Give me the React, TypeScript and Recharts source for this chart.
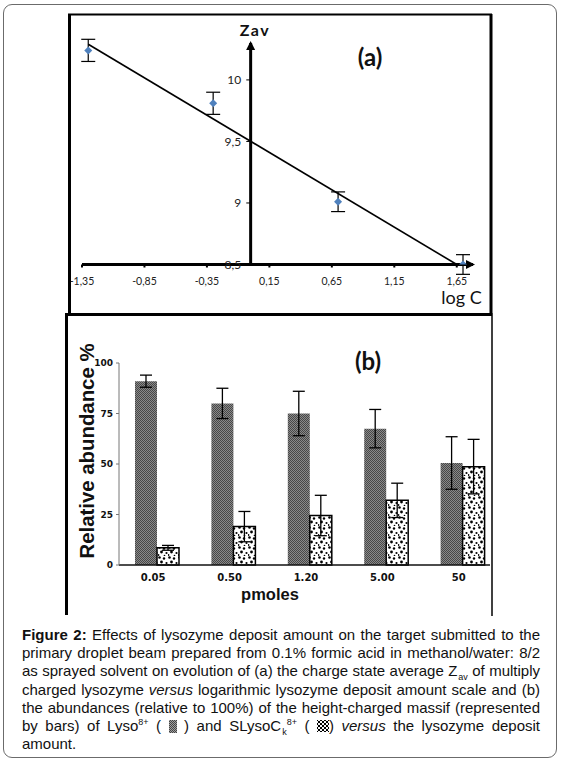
import React from 'react';
import {
  ComposedChart,
  Scatter,
  BarChart,
  Bar,
  XAxis,
  YAxis,
  ErrorBar,
  ReferenceLine,
  ReferenceDot,
} from 'recharts';

// (a) charge state average vs log C
const logC = [-1.3, -0.3, 0.7, 1.7];
const zav = [10.24, 9.81, 9.01, 8.5];
const zavErr = [0.09, 0.09, 0.08, 0.08];
const fitLogC = [-1.3, 1.65];
const fitZav = [10.29, 8.5];
const xTicksA = [-1.35, -0.85, -0.35, 0.15, 0.65, 1.15, 1.65];
const yTicksA = [8.5, 9, 9.5, 10];

// (b) relative abundances
const pmoles = ['0.05', '0.50', '1.20', '5.00', '50'];
const lyso = [91, 80, 75, 67.5, 50.5];
const lysoErr = [3, 7.5, 11, 9.5, 13];
const slyso = [8.5, 19, 24.5, 32, 48.7];
const slysoErr = [1.2, 7.5, 10, 8.5, 13.5];
const yTicksB = [0, 25, 50, 75, 100];
const bandTicks = [1, 2, 3, 4];

const pointsA = logC.map((x, i) => ({ x, y: zav[i], err: zavErr[i] }));
const fitA = fitLogC.map((x, i) => ({ x, y: fitZav[i] }));
const dataB = pmoles.map((p, i) => ({
  p,
  lyso: lyso[i],
  lysoErr: lysoErr[i],
  slyso: slyso[i],
  slysoErr: slysoErr[i],
}));

const comma = (v: number) => String(v).replace('.', ',');

const Diamond = (p: any) => (
  <polygon
    points={`${p.cx},${p.cy - 4} ${p.cx + 4},${p.cy} ${p.cx},${p.cy + 4} ${p.cx - 4},${p.cy}`}
    fill="#4F81BD"
  />
);
const NoDot = () => <g />;
const ArrowRight = (p: any) => (
  <polygon points={`${p.cx + 2},${p.cy} ${p.cx - 7},${p.cy - 4.5} ${p.cx - 7},${p.cy + 4.5}`} fill="#000" />
);
const ArrowUp = (p: any) => (
  <polygon points={`${p.cx},${p.cy - 2} ${p.cx - 4.5},${p.cy + 7} ${p.cx + 4.5},${p.cy + 7}`} fill="#000" />
);

function ChartA() {
  return (
    <ComposedChart width={424} height={302} margin={{ top: 29, right: 19, bottom: 21.5, left: 14 }}>
      <XAxis
        type="number"
        dataKey="x"
        domain={[-1.35, 1.78]}
        ticks={xTicksA}
        interval={0}
        allowDataOverflow
        tickFormatter={comma}
        height={30}
        axisLine={{ stroke: '#000', strokeWidth: 3 }}
        tickLine={{ stroke: '#000', strokeWidth: 2 }}
        tickSize={3}
        tickMargin={10}
        tick={{ fontFamily: 'Lato', fontSize: 10.5, fill: '#222' }}
      />
      <YAxis type="number" dataKey="y" domain={[8.5, 10.3]} allowDataOverflow hide />
      <ReferenceLine x={0} stroke="#000" strokeWidth={3} />
      {yTicksA.map((v) => (
        <ReferenceLine
          key={v}
          segment={[{ x: -0.035, y: v }, { x: 0, y: v }]}
          stroke="#000"
          strokeWidth={1}
          label={{ value: comma(v), position: 'left', offset: 5, fill: '#222', fontSize: 12, fontFamily: 'Lato' }}
        />
      ))}
      <ReferenceDot x={1.78} y={8.5} ifOverflow="visible" shape={ArrowRight} />
      <ReferenceDot x={0} y={10.3} ifOverflow="visible" shape={ArrowUp} />
      <Scatter
        data={fitA}
        line={{ stroke: '#000', strokeWidth: 1.6 }}
        shape={NoDot}
        isAnimationActive={false}
      />
      <Scatter data={pointsA} shape={Diamond} isAnimationActive={false}>
        <ErrorBar dataKey="err" direction="y" width={7} stroke="#000" strokeWidth={1.2} />
      </Scatter>
    </ComposedChart>
  );
}

function ChartB() {
  return (
    <BarChart
      width={440}
      height={299}
      data={dataB}
      margin={{ top: 47, right: 7, bottom: 20, left: 0 }}
      barGap={0}
      barSize={22}
    >
      <defs>
        <pattern id="dkPat" width="2" height="2" patternUnits="userSpaceOnUse">
          <rect width="2" height="2" fill="#8a8a8a" />
          <rect width="1" height="1" fill="#474747" />
          <rect x="1" y="1" width="1" height="1" fill="#474747" />
        </pattern>
        <pattern id="spPat" width="10" height="10" patternUnits="userSpaceOnUse">
          <rect width="10" height="10" fill="#fff" />
          <circle cx="1.5" cy="1.5" r="1.3" fill="#000" />
          <circle cx="6" cy="2.5" r="1.2" fill="#000" />
          <circle cx="3.5" cy="6" r="1.4" fill="#000" />
          <circle cx="8.5" cy="7" r="1.1" fill="#000" />
          <circle cx="0.5" cy="9" r="0.9" fill="#000" />
          <circle cx="6.5" cy="9.6" r="0.8" fill="#000" />
        </pattern>
      </defs>
      <XAxis
        xAxisId="z"
        dataKey="p"
        height={29}
        interval={0}
        axisLine={false}
        tickLine={false}
        tick={{ fontFamily: 'DejaVu Sans', fontWeight: 700, fontSize: 10, fill: '#111', dx: -4 }}
      />
      <XAxis
        xAxisId="a"
        type="number"
        domain={[0, 5]}
        ticks={bandTicks}
        allowDataOverflow
        height={1}
        axisLine={{ stroke: '#111', strokeWidth: 1.5 }}
        tickLine={{ stroke: '#111', strokeWidth: 1.5 }}
        tickSize={5}
        tick={false}
      />
      <YAxis
        domain={[0, 100]}
        ticks={yTicksB}
        width={51}
        axisLine={{ stroke: '#777' }}
        tickLine={{ stroke: '#777' }}
        tickSize={3}
        tickMargin={3}
        tick={{ fontFamily: 'DejaVu Sans', fontWeight: 700, fontSize: 9, fill: '#111' }}
      />
      <Bar xAxisId="z" dataKey="lyso" fill="url(#dkPat)" isAnimationActive={false}>
        <ErrorBar dataKey="lysoErr" direction="y" width={6} stroke="#000" strokeWidth={1.3} />
      </Bar>
      <Bar xAxisId="z" dataKey="slyso" fill="url(#spPat)" stroke="#000" strokeWidth={1.5} isAnimationActive={false}>
        <ErrorBar dataKey="slysoErr" direction="y" width={6} stroke="#000" strokeWidth={1.3} />
      </Bar>
    </BarChart>
  );
}

const sub = { fontSize: 9, verticalAlign: 'sub', lineHeight: 0, marginLeft: 1 } as const;
const sup = { fontSize: 9, verticalAlign: 'super', lineHeight: 0 } as const;
const justify = { textAlign: 'justify', textAlignLast: 'justify' } as const;

function Caption() {
  return (
    <div
      style={{
        position: 'absolute',
        left: 22,
        top: 626,
        width: 518,
        fontFamily: 'Arial, "Liberation Sans", sans-serif',
        fontSize: 15,
        lineHeight: '18.2px',
        color: '#111',
      }}
    >
      <div style={justify}>
        <b>Figure 2:</b> Effects of lysozyme deposit amount on the target submitted to the
      </div>
      <div style={justify}>primary droplet beam prepared from 0.1% formic acid in methanol/water: 8/2</div>
      <div style={justify}>
        as sprayed solvent on evolution of (a) the charge state average Z<span style={sub}>av</span> of multiply
      </div>
      <div style={justify}>
        charged lysozyme <i>versus</i> logarithmic lysozyme deposit amount scale and (b)
      </div>
      <div style={justify}>the abundances (relative to 100%) of the height-charged massif (represented</div>
      <div style={justify}>
        by bars) of Lyso<span style={sup}>8+</span> ({' '}
        <span
          style={{
            display: 'inline-block',
            width: 8,
            height: 13,
            verticalAlign: -2,
            background: 'repeating-conic-gradient(#444 0 25%, #a0a0a0 0 50%) 0 0/2px 2px',
          }}
        />{' '}
        ) and SLysoC<span style={sub}>k</span>
        <span style={sup}>8+</span> ({' '}
        <span
          style={{
            display: 'inline-block',
            width: 12,
            height: 12,
            verticalAlign: -1,
            background:
              'radial-gradient(circle, #000 1.1px, transparent 1.6px) 0 0/4px 4px, radial-gradient(circle, #000 1px, transparent 1.5px) 2px 2px/4px 4px',
          }}
        />
        ) <i>versus</i> the lysozyme deposit
      </div>
      <div>amount.</div>
    </div>
  );
}

export default function App() {
  return (
    <div
      style={{
        position: 'absolute',
        left: 0,
        top: 0,
        width: 562,
        height: 765,
        background: '#fff',
        overflow: 'hidden',
      }}
    >
      <div
        style={{
          position: 'absolute',
          left: 3,
          top: 4,
          width: 554,
          height: 754,
          border: '1.5px solid #6b6b6b',
          borderRadius: 9,
          boxSizing: 'border-box',
        }}
      />
      <div style={{ position: 'absolute', left: 68, top: 14 }}>
        <ChartA />
      </div>
      <div style={{ position: 'absolute', left: 68, top: 316, width: 422, height: 299, overflow: 'hidden' }}>
        <ChartB />
      </div>
      <svg
        width={562}
        height={765}
        style={{ position: 'absolute', left: 0, top: 0, pointerEvents: 'none' }}
      >
        {/* panel frames */}
        <line x1={68} y1={14.5} x2={492} y2={14.5} stroke="#000" strokeWidth={2} />
        <line x1={69.5} y1={14} x2={69.5} y2={316} stroke="#000" strokeWidth={3} />
        <line x1={491} y1={14} x2={491} y2={316} stroke="#000" strokeWidth={3} />
        <line x1={65} y1={314.5} x2={492.5} y2={314.5} stroke="#000" strokeWidth={3} />
        <line x1={66.5} y1={313} x2={66.5} y2={615} stroke="#000" strokeWidth={3} />
        <line x1={492} y1={316} x2={492} y2={616} stroke="#000" strokeWidth={1.5} />
        {/* panel (a) labels */}
        <text x={255} y={36} textAnchor="middle" fontFamily="Lato" fontWeight={700} fontSize={16} letterSpacing={1.5} fill="#111">
          Zav
        </text>
        <text x={370} y={66} textAnchor="middle" fontFamily="Lato" fontWeight={700} fontSize={24} fill="#111">
          (a)
        </text>
        <text x={461.5} y={304} textAnchor="middle" fontFamily="Lato" fontSize={18} fill="#111">
          log C
        </text>
        {/* panel (b) labels */}
        <text x={368} y={370} textAnchor="middle" fontFamily="Lato" fontWeight={700} fontSize={24} fill="#111">
          (b)
        </text>
        <text x={270} y={600} textAnchor="middle" fontFamily="Arial, 'Liberation Sans'" fontWeight={700} fontSize={16.5} fill="#111">
          pmoles
        </text>
        <text
          transform="translate(94, 451) rotate(-90)"
          textAnchor="middle"
          fontFamily="Arial, 'Liberation Sans'"
          fontWeight={700}
          fontSize={21}
          textLength={215}
          lengthAdjust="spacingAndGlyphs"
          fill="#111"
        >
          Relative abundance %
        </text>
      </svg>
      <Caption />
    </div>
  );
}
